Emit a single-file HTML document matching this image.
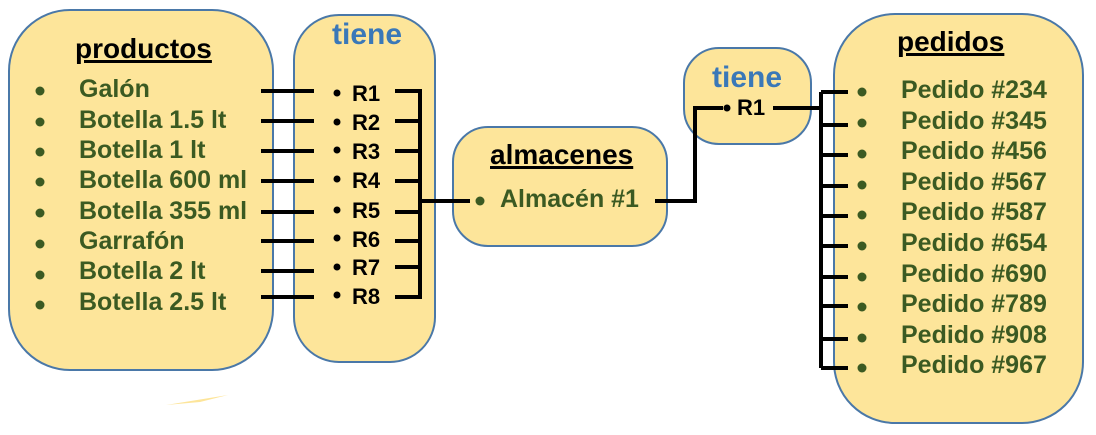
<!DOCTYPE html>
<html><head><meta charset="utf-8"><style>
body{margin:0;width:1096px;height:435px;background:#fff;position:relative;overflow:hidden;font-family:"Liberation Sans",Arial,sans-serif;font-weight:bold}
.box{position:absolute;background:#fde59a;border:2px solid #4a78a8;box-sizing:border-box}
.t{position:absolute;white-space:nowrap;line-height:1}
.g{color:#3b5a22;font-size:25px}
.h{color:#000;font-size:28px;text-decoration:underline;text-decoration-thickness:3px}
.b{color:#3a78b8;font-size:30px}
.r{color:#000;font-size:22px}
svg{position:absolute;left:0;top:0}
</style></head><body>
<div class="box" style="left:8px;top:9px;width:266px;height:362px;border-radius:62px"></div>
<div class="box" style="left:293px;top:14px;width:143px;height:349px;border-radius:46px"></div>
<div class="box" style="left:452px;top:126px;width:216px;height:121px;border-radius:36px"></div>
<div class="box" style="left:683px;top:47px;width:129px;height:98px;border-radius:36px"></div>
<div class="box" style="left:833px;top:13px;width:251px;height:411px;border-radius:62px"></div>
<svg width="1096" height="435">
<g stroke="#000" stroke-width="4" fill="none">
<path d="M261 91H314M261 121H314M261 151H314M261 181H314M261 212H314M261 241H314M261 271H314M261 297H314"/>
<path d="M395 91H420V297H395M395 121H420M395 151H420M395 181H420M395 212H420M395 241H420M395 267H420M420 201H470"/>
<path d="M655 201H695V108H723M773 108H821M821 92V368M821 92H848M821 125H848M821 155H848M821 186H848M821 216H848M821 246H848M821 277H848M821 306H848M821 339H848M821 368H848"/>
</g>
<g fill="#000"><circle cx="337" cy="93" r="3.5"/><circle cx="337" cy="122" r="3.5"/><circle cx="337" cy="150" r="3.5"/><circle cx="337" cy="179" r="3.5"/><circle cx="337" cy="210" r="3.5"/><circle cx="337" cy="238" r="3.5"/><circle cx="337" cy="267" r="3.5"/><circle cx="337" cy="295" r="3.5"/><circle cx="727" cy="108" r="3.5"/></g>
<g fill="#3b5a22"><circle cx="40" cy="91" r="4.5"/><circle cx="40" cy="122" r="4.5"/><circle cx="40" cy="152" r="4.5"/><circle cx="40" cy="182" r="4.5"/><circle cx="40" cy="213" r="4.5"/><circle cx="40" cy="244" r="4.5"/><circle cx="40" cy="275" r="4.5"/><circle cx="40" cy="305" r="4.5"/>
<circle cx="480" cy="201" r="4.5"/>
<circle cx="862" cy="92" r="4.5"/><circle cx="862" cy="123" r="4.5"/><circle cx="862" cy="154" r="4.5"/><circle cx="862" cy="185" r="4.5"/><circle cx="862" cy="215" r="4.5"/><circle cx="862" cy="246" r="4.5"/><circle cx="862" cy="277" r="4.5"/><circle cx="862" cy="307" r="4.5"/><circle cx="862" cy="338" r="4.5"/><circle cx="862" cy="368" r="4.5"/></g>
<path d="M166 405L228 395L200 402Z" fill="#fde59a"/>
</svg>
<div class="t h" style="left:75px;top:35px">productos</div>
<div class="t g" style="left:79px;top:77px">Galón</div>
<div class="t g" style="left:79px;top:108px">Botella 1.5 lt</div>
<div class="t g" style="left:79px;top:138px">Botella 1 lt</div>
<div class="t g" style="left:79px;top:168px">Botella 600 ml</div>
<div class="t g" style="left:79px;top:199px">Botella 355 ml</div>
<div class="t g" style="left:79px;top:229px">Garrafón</div>
<div class="t g" style="left:79px;top:259px">Botella 2 lt</div>
<div class="t g" style="left:79px;top:290px">Botella 2.5 lt</div>
<div class="t b" style="left:332px;top:20px">tiene</div>
<div class="t r" style="left:352px;top:83px">R1</div>
<div class="t r" style="left:352px;top:112px">R2</div>
<div class="t r" style="left:352px;top:141px">R3</div>
<div class="t r" style="left:352px;top:170px">R4</div>
<div class="t r" style="left:352px;top:200px">R5</div>
<div class="t r" style="left:352px;top:229px">R6</div>
<div class="t r" style="left:352px;top:257px">R7</div>
<div class="t r" style="left:352px;top:286px">R8</div>
<div class="t h" style="left:490px;top:141px">almacenes</div>
<div class="t g" style="left:500px;top:187px">Almacén #1</div>
<div class="t b" style="left:712px;top:63px">tiene</div>
<div class="t r" style="left:737px;top:97px">R1</div>
<div class="t h" style="left:897px;top:28px">pedidos</div>
<div class="t g" style="left:901px;top:78px">Pedido #234</div>
<div class="t g" style="left:901px;top:109px">Pedido #345</div>
<div class="t g" style="left:901px;top:139px">Pedido #456</div>
<div class="t g" style="left:901px;top:170px">Pedido #567</div>
<div class="t g" style="left:901px;top:200px">Pedido #587</div>
<div class="t g" style="left:901px;top:231px">Pedido #654</div>
<div class="t g" style="left:901px;top:262px">Pedido #690</div>
<div class="t g" style="left:901px;top:292px">Pedido #789</div>
<div class="t g" style="left:901px;top:323px">Pedido #908</div>
<div class="t g" style="left:901px;top:353px">Pedido #967</div>
</body></html>
